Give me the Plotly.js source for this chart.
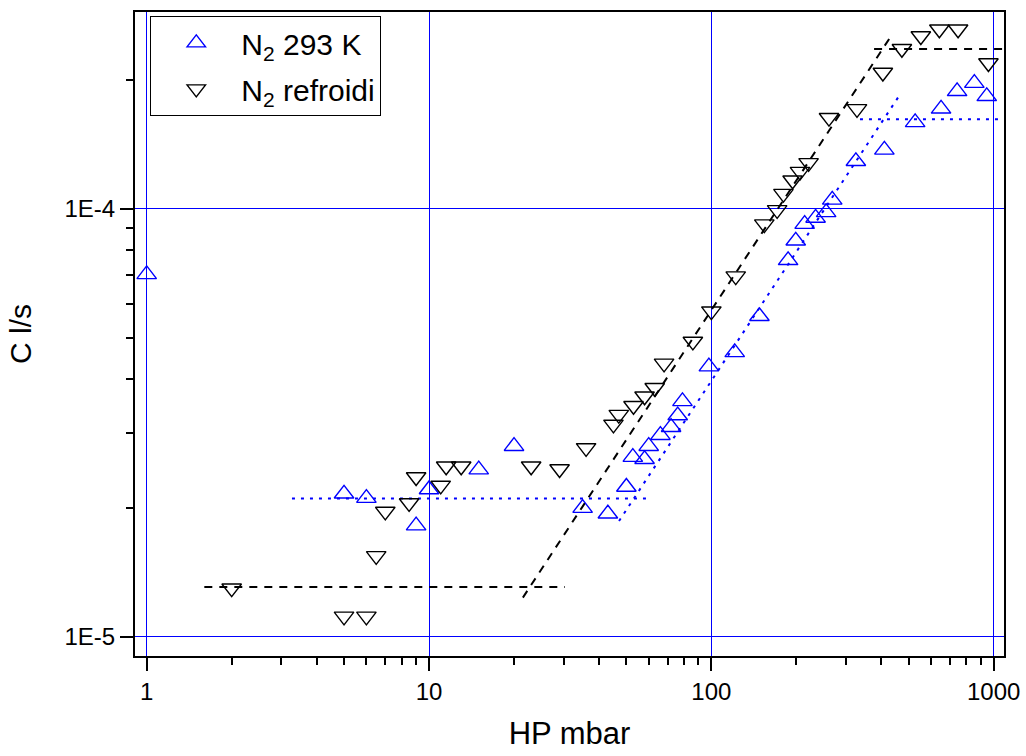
<!DOCTYPE html>
<html><head><meta charset="utf-8">
<script src="https://cdn.plot.ly/plotly-3.0.1.min.js"></script>
<style>html,body{margin:0;padding:0;background:#fff}#chart{width:1026px;height:756px}</style>
</head><body><div id="chart"></div>
<script>
// N2 293 K (blue, triangle up)
const hp293 = [1, 5, 6, 9, 10, 15, 20, 35, 43, 50, 52.7, 58, 60, 66, 72, 76, 79, 98, 121, 148, 187, 199, 214, 234, 255, 268, 325, 410, 527, 651, 742, 854, 945];
const c293 = [7.03e-5, 2.16e-5, 2.11e-5, 1.82e-5, 2.21e-5, 2.46e-5, 2.79e-5, 2.0e-5, 1.94e-5, 2.24e-5, 2.63e-5, 2.60e-5, 2.79e-5, 2.96e-5, 3.09e-5, 3.29e-5, 3.55e-5, 4.28e-5, 4.62e-5, 5.61e-5, 7.58e-5, 8.42e-5, 9.21e-5, 9.52e-5, 9.81e-5, 1.049e-4, 1.291e-4, 1.373e-4, 1.592e-4, 1.712e-4, 1.881e-4, 1.966e-4, 1.831e-4];
// N2 refroidi (black, triangle down)
const hpCold = [2, 5, 6, 6.5, 7, 8.5, 9, 11, 11.5, 13, 23, 29, 36, 45, 47, 53, 58, 63, 68, 86, 100, 122, 154, 171, 180, 194, 206, 221, 261, 328, 405, 473, 552, 642, 748, 958];
const cCold = [1.30e-5, 1.117e-5, 1.117e-5, 1.547e-5, 1.964e-5, 2.056e-5, 2.364e-5, 2.259e-5, 2.504e-5, 2.504e-5, 2.504e-5, 2.468e-5, 2.764e-5, 3.136e-5, 3.306e-5, 3.467e-5, 3.649e-5, 3.82e-5, 4.354e-5, 4.9e-5, 5.766e-5, 6.963e-5, 9.21e-5, 9.94e-5, 1.085e-4, 1.166e-4, 1.221e-4, 1.28e-4, 1.632e-4, 1.711e-4, 2.081e-4, 2.364e-4, 2.532e-4, 2.626e-4, 2.626e-4, 2.19e-4];
// guide lines (plateau / slope / plateau)
const fit293X = [3.27, 59, null, 47.1, 462, null, 336, 1068];
const fit293Y = [2.105e-5, 2.105e-5, null, 1.866e-5, 1.834e-4, null, 1.618e-4, 1.618e-4];
const fitColdX = [1.6, 30.3, null, 21.5, 433, null, 377, 1171];
const fitColdY = [1.308e-5, 1.308e-5, null, 1.236e-5, 2.532e-4, null, 2.36e-4, 2.36e-4];
// ticks
const xTickVals = [1, 10, 100, 1000];
const xTickText = ['1', '10', '100', '1000'];
const yTickVals = [1e-5, 1e-4];
const yTickText = ['1E-5', '1E-4'];

function minorVals(decades) {
  const out = [];
  decades.forEach(d => { for (let k = 2; k <= 9; k++) out.push(k * d); });
  return out;
}
const xMinor = minorVals([1, 10, 100]);
const yMinor = minorVals([1e-5, 1e-4]);

const BLUE = '#0000ff';
const xRange = [-0.0414, 3.0365];
const yRange = [-5.0444, -3.5404];

const traces = [
  {x: fit293X, y: fit293Y, mode: 'lines', line: {color: BLUE, width: 2, dash: '3px,6px'}, showlegend: false, hoverinfo: 'skip', connectgaps: false},
  {x: fitColdX, y: fitColdY, mode: 'lines', line: {color: '#000', width: 2, dash: '8px,7px'}, showlegend: false, hoverinfo: 'skip', connectgaps: false},
  {x: hp293, y: c293, mode: 'markers', name: 'N<sub>2</sub> 293 K', legendgroup: 'a',
   marker: {symbol: 'triangle-up-open', size: 17, color: BLUE, line: {color: BLUE, width: 1.4}}, cliponaxis: false},
  {x: hpCold, y: cCold, mode: 'markers', name: 'N<sub>2</sub> refroidi', legendgroup: 'b',
   marker: {symbol: 'triangle-down-open', size: 17, color: '#000', line: {color: '#000', width: 1.4}}, cliponaxis: false}
];

const FONT = 'Arial, "Liberation Sans", sans-serif';
const layout = {
  width: 1026, height: 756,
  margin: {l: 135, r: 22, t: 12, b: 100, pad: 0},
  paper_bgcolor: '#fff', plot_bgcolor: '#fff',
  font: {family: FONT, color: '#000', size: 24},
  showlegend: true,
  xaxis: {
    type: 'log', range: xRange, tickmode: 'array', tickvals: xTickVals, ticktext: xTickText,
    ticks: 'outside', ticklen: 13, tickwidth: 2, tickcolor: '#000',
    showline: true, linewidth: 2, linecolor: '#000', mirror: true,
    showgrid: true, gridcolor: BLUE, gridwidth: 1, zeroline: false,
    tickfont: {size: 24, family: FONT, color: '#000'},
    title: {text: 'HP mbar', font: {size: 31, family: FONT, color: '#000'}, standoff: 19},
    minor: {tickmode: 'array', tickvals: xMinor, ticks: 'outside', ticklen: 7, tickwidth: 2, tickcolor: '#000', showgrid: false}
  },
  xaxis2: {
    type: 'log', range: xRange, overlaying: 'x', side: 'top', anchor: 'y',
    tickmode: 'array', tickvals: xTickVals, ticks: 'outside', ticklen: 3, tickwidth: 1.5, tickcolor: '#000',
    showticklabels: false, showgrid: false, showline: false, zeroline: false,
    minor: {tickmode: 'array', tickvals: xMinor, ticks: 'outside', ticklen: 3, tickwidth: 1.5, tickcolor: '#000', showgrid: false}
  },
  yaxis: {
    type: 'log', range: yRange, tickmode: 'array', tickvals: yTickVals, ticktext: yTickText,
    ticks: 'outside', ticklen: 13, tickwidth: 2, tickcolor: '#000',
    showline: true, linewidth: 2, linecolor: '#000', mirror: true,
    showgrid: true, gridcolor: BLUE, gridwidth: 1, zeroline: false,
    tickfont: {size: 24, family: FONT, color: '#000'},
    title: {text: 'C l/s', font: {size: 30, family: FONT, color: '#000'}, standoff: 24},
    minor: {tickmode: 'array', tickvals: yMinor, ticks: 'outside', ticklen: 7, tickwidth: 2, tickcolor: '#000', showgrid: false}
  },
  yaxis2: {
    type: 'log', range: yRange, overlaying: 'y', side: 'right', anchor: 'x',
    tickmode: 'array', tickvals: yTickVals, ticks: 'inside', ticklen: 5, tickwidth: 2, tickcolor: '#000',
    showticklabels: false, showgrid: false, showline: false, zeroline: false,
    minor: {tickmode: 'array', tickvals: yMinor, ticks: 'inside', ticklen: 4, tickwidth: 2, tickcolor: '#000', showgrid: false}
  },
  legend: {
    x: 0.0176, y: 0.994, xanchor: 'left', yanchor: 'top',
    bgcolor: '#fff', bordercolor: '#000', borderwidth: 1,
    font: {size: 30, family: FONT, color: '#000'},
    itemwidth: 80, tracegroupgap: 4
  }
};

Plotly.newPlot('chart', traces, layout, {displayModeBar: false, staticPlot: true});
</script>
</body></html>
